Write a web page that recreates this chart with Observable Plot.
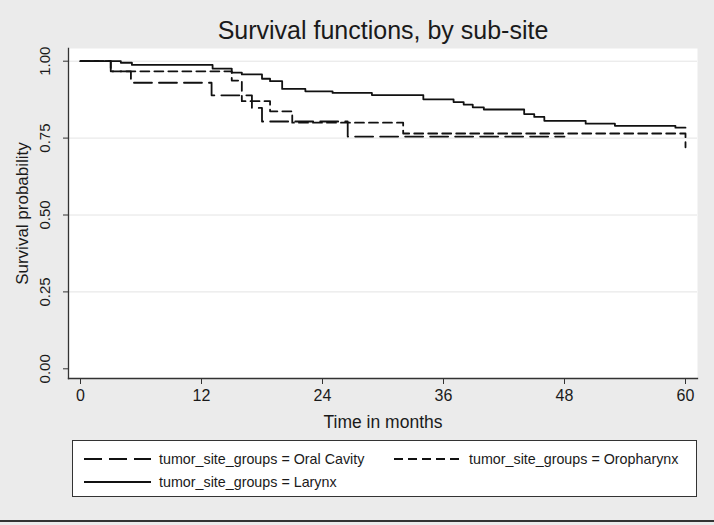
<!DOCTYPE html>
<html><head><meta charset="utf-8">
<script src="https://cdn.jsdelivr.net/npm/d3@7"></script>
<script src="https://cdn.jsdelivr.net/npm/@observablehq/plot@0.6"></script>
<style>
html,body{margin:0;padding:0;background:#ebebeb;}
body{width:714px;height:525px;position:relative;overflow:hidden;font-family:"Liberation Sans",Arial,sans-serif;color:#1a1a1a;}
#title{position:absolute;left:0;top:16px;width:766px;text-align:center;font-size:25px;line-height:28px;}
#chart{position:absolute;left:0;top:0;}
#legend{position:absolute;left:72px;top:440px;width:625px;height:57px;box-sizing:border-box;border:1px solid #333;background:#fff;}
.item{position:absolute;height:18px;}
.item svg{position:absolute;left:0;top:6px;}
.item span{position:absolute;top:0;line-height:18px;font-size:14.3px;white-space:nowrap;}
#bottomline{position:absolute;left:0;top:520px;width:714px;height:2px;background:#333;}
</style></head>
<body>
<div id="title"></div>
<div id="chart"></div>
<div id="legend"></div>
<div id="bottomline"></div>
<script>
const titleText = "Survival functions, by sub-site";
const xLabel = "Time in months";
const yLabel = "Survival probability";
const xTicks = [0, 12, 24, 36, 48, 60];
const yTicks = [0, 0.25, 0.5, 0.75, 1];
const groups = ["Oral Cavity", "Oropharynx", "Larynx"];
const legendPrefix = "tumor_site_groups = ";

const oralTime = [0, 3, 5, 13, 17, 18, 26.5, 48];
const oralSurv = [1, 0.967, 0.93, 0.889, 0.848, 0.804, 0.755, 0.755];

const oroTime = [0, 3, 15, 16, 18.8, 21, 32, 60, 60];
const oroSurv = [1, 0.967, 0.937, 0.87, 0.837, 0.80, 0.765, 0.765, 0.72];

const larTime = [0, 4, 5.1, 13.1, 15, 16, 18, 18.8, 20, 22.3, 25, 28.9, 34, 37, 38, 38.9, 40, 44, 45, 46, 50.1, 53, 59, 60];
const larSurv = [1, 0.995, 0.988, 0.976, 0.963, 0.957, 0.943, 0.935, 0.91, 0.902, 0.897, 0.89, 0.876, 0.867, 0.859, 0.85, 0.843, 0.828, 0.819, 0.806, 0.797, 0.79, 0.784, 0.784];

const dashes = {"Oral Cavity": "18,7", "Oropharynx": "9,5", "Larynx": null};
const lineColor = "#111";

const mk = (g, t, s) => t.map((v, i) => ({group: g, t: v, s: s[i]}));
const series = [
  mk("Oral Cavity", oralTime, oralSurv),
  mk("Oropharynx", oroTime, oroSurv),
  mk("Larynx", larTime, larSurv)
];

document.getElementById("title").textContent = titleText;

const font = '"Liberation Sans", Arial, sans-serif';
const chart = Plot.plot({
  width: 714, height: 430,
  marginLeft: 68, marginRight: 17, marginTop: 48, marginBottom: 52,
  style: {background: "transparent", fontFamily: font, fontSize: "15px", color: "#1a1a1a", overflow: "visible"},
  x: {domain: [0, 60], range: [80, 685]},
  y: {domain: [0, 1], range: [368.3, 60.7]},
  marks: [
    Plot.frame({fill: "white", stroke: null}),
    Plot.gridY(yTicks.slice(1), {stroke: "#e4e4e4", strokeOpacity: 1}),
    ...series.map(d => Plot.line(d, {x: "t", y: "s", curve: "step-after", stroke: lineColor, strokeWidth: 1.8,
      strokeDasharray: dashes[d[0].group] || undefined})),
    Plot.frame({anchor: "left", stroke: "#333", strokeWidth: 1.3}),
    Plot.frame({anchor: "bottom", stroke: "#333", strokeWidth: 1.3}),
    Plot.axisY(yTicks, {tickFormat: d3.format(".2f"), tickSize: 5, tickRotate: -90, tickPadding: 14, label: null, fontSize: 15, stroke: "#333"}),
    Plot.axisX(xTicks, {tickSize: 6, tickPadding: 5, label: null, fontSize: 16, stroke: "#333"}),
    Plot.text([yLabel], {frameAnchor: "left", dx: -46, rotate: -90, textAnchor: "middle", fontSize: 17, fill: "#1a1a1a"}),
    Plot.text([xLabel], {frameAnchor: "bottom", dy: 49, fontSize: 17.5, fill: "#1a1a1a"})
  ]
});
document.getElementById("chart").appendChild(chart);

const legend = document.getElementById("legend");
const pos = {"Oral Cavity": [11, 9], "Oropharynx": [321, 9], "Larynx": [11, 32]};
groups.forEach(g => {
  const [lx, ly] = pos[g];
  const it = document.createElement("div");
  it.className = "item";
  it.style.left = lx + "px"; it.style.top = ly + "px";
  const w = 67;
  it.innerHTML = `<svg width="${w}" height="6"><line x1="0" y1="3" x2="${w}" y2="3" stroke="${lineColor}" stroke-width="1.8" ${dashes[g] ? `stroke-dasharray="${dashes[g]}"` : ""}/></svg><span style="left:${75}px">${legendPrefix + g}</span>`;
  legend.appendChild(it);
});
</script>
</body></html>
